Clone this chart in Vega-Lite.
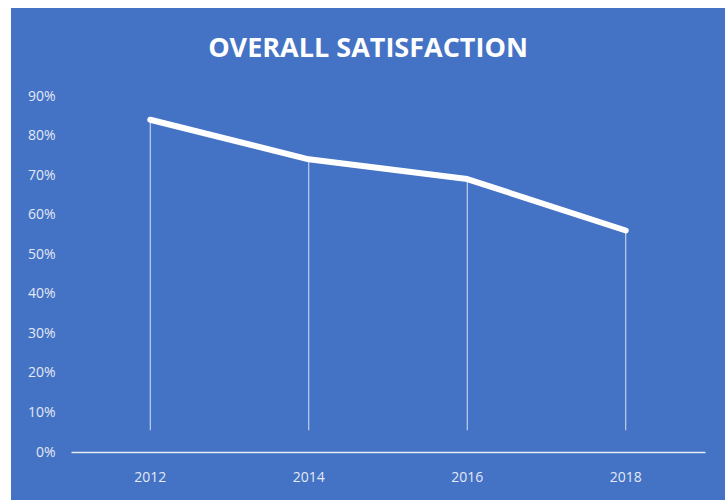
{
  "$schema": "https://vega.github.io/schema/vega-lite/v6.json",
  "autosize": "none",
  "width": 714,
  "height": 492,
  "padding": {"left": 11, "top": 8, "right": 3, "bottom": 0},
  "background": "white",
  "config": {
    "view": {"fill": "#4472C4", "stroke": null},
    "font": "Open Sans"
  },
  "title": {
    "text": "OVERALL SATISFACTION",
    "font": "Open Sans",
    "fontSize": 27,
    "fontWeight": "bold",
    "color": "white",
    "anchor": "middle",
    "baseline": "alphabetic",
    "offset": -76
  },
  "data": {
    "values": [
      {"year": "2012", "value": 0.84},
      {"year": "2014", "value": 0.74},
      {"year": "2016", "value": 0.69},
      {"year": "2018", "value": 0.56}
    ]
  },
  "encoding": {
    "x": {
      "field": "year",
      "type": "ordinal",
      "scale": {"type": "band", "range": [60, 694], "paddingInner": 0, "paddingOuter": 0},
      "axis": {
        "title": null,
        "orient": "bottom",
        "offset": -48,
        "labelAngle": 0,
        "ticks": false,
        "domainColor": "#e6ecf7",
        "domainWidth": 1.5,
        "labelColor": "#e3e9f5",
        "labelFont": "Open Sans",
        "labelFontSize": 14,
        "labelBaseline": "middle",
        "labelPadding": 25,
        "grid": false
      }
    }
  },
  "layer": [
    {
      "mark": {"type": "rule", "color": "white", "strokeWidth": 1, "opacity": 0.8},
      "encoding": {
        "y": {
          "field": "value",
          "type": "quantitative",
          "scale": {"domain": [0, 0.9], "range": [444, 88], "nice": false},
          "axis": {
            "title": null,
            "orient": "left",
            "offset": -44,
            "values": [0, 0.1, 0.2, 0.3, 0.4, 0.5, 0.6, 0.7, 0.8, 0.9],
            "format": ".0%",
            "domain": false,
            "ticks": false,
            "grid": false,
            "labelColor": "#e3e9f5",
            "labelFont": "Open Sans",
            "labelFontSize": 14,
            "labelPadding": 0,
            "labelBaseline": "middle"
          }
        },
        "y2": {"datum": 0.055}
      }
    },
    {
      "mark": {"type": "line", "color": "white", "strokeWidth": 6, "strokeCap": "round", "strokeJoin": "round"},
      "encoding": {
        "y": {"field": "value", "type": "quantitative"}
      }
    }
  ]
}
